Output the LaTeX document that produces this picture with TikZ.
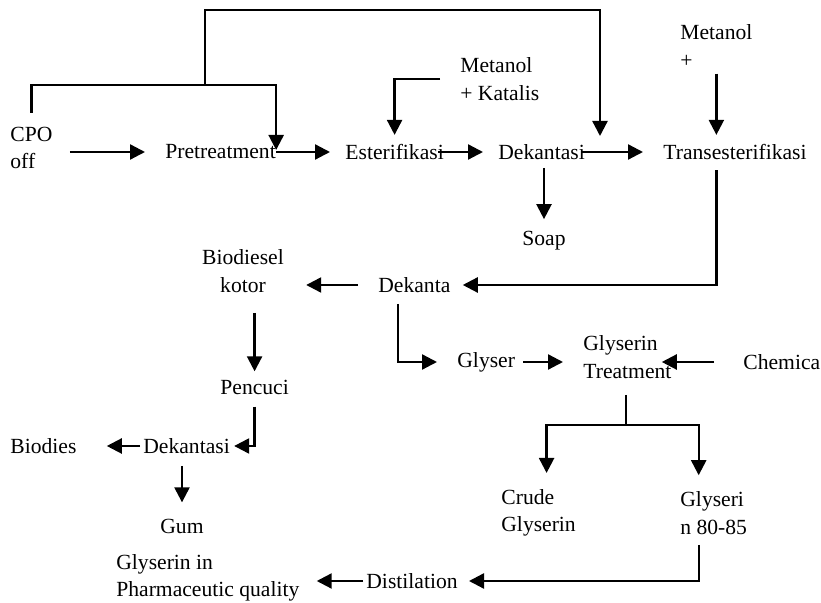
\documentclass[tikz,border=0pt]{standalone}
\usepackage{fontspec}
\setmainfont{Liberation Serif}
\usetikzlibrary{arrows.meta,positioning}

\begin{document}
\begin{tikzpicture}[x=0.5pt,y=-0.5pt,
  lbl/.style={inner sep=0pt,anchor=west,align=left,font=\fontsize{10.8}{13.8}\selectfont},
  link/.style={line width=1.15pt},
  flow/.style={link,-{Triangle[length=7.5pt,width=7.5pt]}}]
  \useasboundingbox (0,0) rectangle (821,603);

  % Main line
  \node[lbl] (cpo) at (10,148) {CPO\\off};
  \node[lbl] (pre) at (165,152) {Pretreatment};
  \node[lbl] (est) at (345,152) {Esterifikasi};
  \node[lbl] (dek1) at (498,152) {Dekantasi};
  \node[lbl] (trans) at (663,152) {Transesterifikasi};
  \node[lbl] (met1) at (460,79) {Metanol\\+ Katalis};
  \node[lbl] (met2) at (680,46) {Metanol\\+};
  \node[lbl] (soap) at (522,241) {Soap};

  % Biodiesel branch
  \node[lbl] (dek2) at (378,285) {Dekanta};
  \node[lbl,anchor=center,align=center] (bio) at (243,271) {Biodiesel\\kotor};
  \node[lbl] (pen) at (220,387) {Pencuci};
  \node[lbl] (dek3) at (143,446) {Dekantasi};
  \node[lbl] (bios) at (10,446) {Biodies};
  \node[lbl] (gum) at (160,526) {Gum};
  \node[lbl] (pharm) at (116,578) {Glyserin in\\Pharmaceutic quality};
  \node[lbl] (dist) at (366,581) {Distilation};

  % Glyserin branch
  \node[lbl] (gly) at (457,362) {Glyser};
  \node[lbl] (gtr) at (583,357) {Glyserin\\Treatment};
  \node[lbl] (chem) at (743,362) {Chemica};
  \node[lbl] (crude) at (501,513) {Crude\\Glyserin};
  \node[lbl] (g80) at (680,513) {Glyseri\\n 80-85};

  \coordinate (loop1) at (205,85);
  \coordinate (topr) at (600,10);
  \coordinate (split) at (626,425);

  % Arrows
  \draw[flow,shorten <=8.5pt,shorten >=10pt] (cpo.east |- pre.west) -- (pre.west);
  \draw[flow,shorten >=7.5pt] (pre.east) -- (est.west);
  \draw[flow,shorten <=-3pt,shorten >=7.5pt] (est.east) -- (dek1.west);
  \draw[flow,shorten <=-2pt,shorten >=10pt] (dek1.east) -- (trans.west);
  \draw[flow,shorten <=7pt,shorten >=1pt] (cpo.north) |- (loop1) -| (pre.east);
  \draw[flow,shorten >=4pt] (loop1) |- (topr) -- (topr |- dek1.north);
  \draw[flow,shorten <=10pt,shorten >=4.5pt] (met1.west) -| (est.north);
  \draw[flow,shorten <=3pt,shorten >=4.5pt] (met2.south) -- (met2.south |- trans.north);
  \draw[flow,shorten <=4pt,shorten >=6pt] (dek1.south -| soap.north) -- (soap.north);
  \draw[flow,shorten <=5pt,shorten >=6pt] (met2.south |- trans.south) |- (dek2.east);
  \draw[flow,shorten <=10pt,shorten >=11pt] (dek2.west) -- (dek2.west -| bio.east);
  \draw[flow,shorten <=10pt,shorten >=4pt] (pen.north |- bio.south) -- (pen.north);
  \draw[flow,shorten <=6pt,shorten >=2pt] (pen.south) |- (dek3.east);
  \draw[flow,shorten <=1.5pt,shorten >=15pt] (dek3.west) -- (bios.east);
  \draw[flow,shorten <=6pt,shorten >=8pt] (gum.north |- dek3.south) -- (gum.north);
  \draw[flow,shorten <=5.5pt,shorten >=10pt] ([xshift=10pt]dek2.south west) |- (gly.west);
  \draw[flow,shorten <=4pt,shorten >=10pt] (gly.east) -- (gly.east -| gtr.west);
  \draw[flow,shorten <=14.5pt,shorten >=-5pt] (chem.west) -- (chem.west -| gtr.east);
  \draw[link,shorten <=8pt] (split |- gtr.south) -- (split);
  \draw[flow,shorten >=8pt] (split) -| ([xshift=4pt]crude.north);
  \draw[flow,shorten >=8pt] (split) -| ([xshift=-7.5pt]g80.north);
  \draw[flow,shorten <=5pt,shorten >=5.5pt] ([xshift=-7.5pt]g80.south) |- (dist.east);
  \draw[flow,shorten <=1.5pt,shorten >=8.5pt] (dist.west) -- (dist.west -| pharm.east);
\end{tikzpicture}
\end{document}
